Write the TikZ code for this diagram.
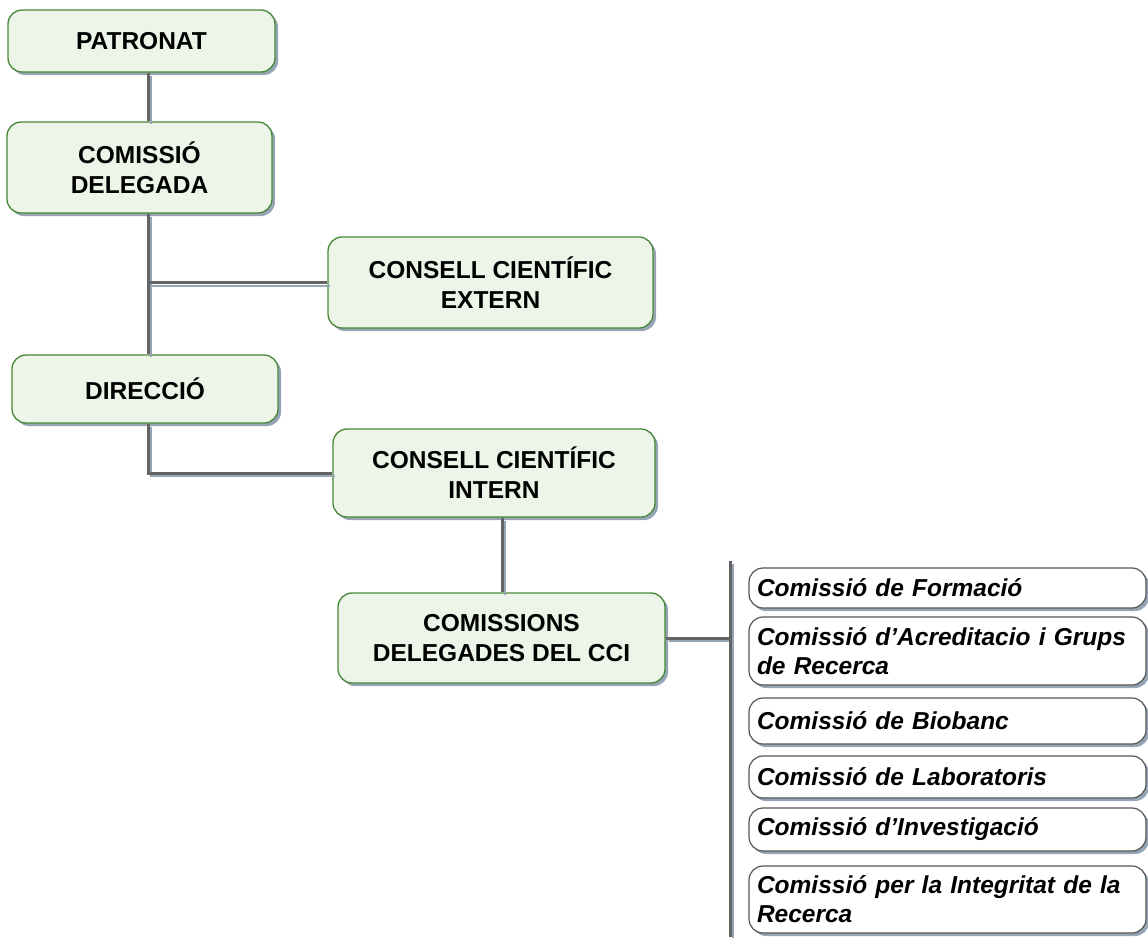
\documentclass[tikz,border=0pt]{standalone}
\usepackage{fontspec}
\setmainfont{Liberation Sans}
\usetikzlibrary{positioning,shadows}

\definecolor{mint}{RGB}{236,245,232}
\definecolor{boxline}{RGB}{70,135,55}
\definecolor{shadowblue}{RGB}{150,165,182}
\definecolor{linkgray}{RGB}{100,100,100}
\definecolor{listline}{RGB}{85,85,85}

\tikzset{
  orgbox/.style={draw=boxline, line width=1.3pt, fill=mint, rounded corners=14pt,
    align=center, inner sep=0pt, font=\bfseries\fontsize{24.5}{30}\selectfont,
    drop shadow={shadow xshift=3pt, shadow yshift=-3pt, fill=shadowblue, opacity=1}},
  listbox/.style={draw=listline, line width=1.2pt, fill=white, rounded corners=14pt,
    align=left, text width=381pt, inner xsep=8pt, inner ysep=0pt,
    minimum width=397pt, font=\bfseries\itshape\fontsize{24.5}{29}\selectfont,
    drop shadow={shadow xshift=3pt, shadow yshift=-3pt, fill=shadowblue, opacity=1}},
  link/.style={draw=linkgray, line width=3pt,
    preaction={draw=shadowblue, line width=2pt, transform canvas={shift={(3pt,-3pt)}}}}
}

\begin{document}
\begin{tikzpicture}[x=1pt,y=-1pt,node distance=60pt,on grid]
  \useasboundingbox (0,0) rectangle (1148,937);

  % main chain
  \node[orgbox, minimum width=267pt, minimum height=62pt] (patronat) at (141.5,41) {PATRONAT};
  \node[orgbox, minimum width=265pt, minimum height=91pt] (delegada) [below=126.5pt of patronat, xshift=-2pt] {COMISSIÓ\\DELEGADA};
  \node[orgbox, minimum width=325pt, minimum height=91pt] (extern) [below right=115pt and 351pt of delegada] {CONSELL CIENTÍFIC\\EXTERN};
  \node[orgbox, minimum width=266pt, minimum height=68pt] (direccio) [below left=106.5pt and 345.5pt of extern] {DIRECCIÓ};
  \node[orgbox, minimum width=322pt, minimum height=88pt] (intern) [below right=84pt and 349pt of direccio] {CONSELL CIENTÍFIC\\INTERN};
  \node[orgbox, minimum width=327pt, minimum height=90pt] (comissions) [below right=165pt and 7.5pt of intern] {COMISSIONS\\DELEGADES DEL CCI};

  % commissions list
  \node[listbox, minimum height=40pt] (formacio) [above right=50pt and 446pt of comissions] {Comissió de Formació};
  \node[listbox, minimum height=68pt] (acreditacio) [below=63pt of formacio] {Comissió d’Acreditacio i Grups\\de Recerca};
  \node[listbox, minimum height=46pt] (biobanc) [below=70pt of acreditacio] {Comissió de Biobanc};
  \node[listbox, minimum height=42pt] (laboratoris) [below=56pt of biobanc] {Comissió de Laboratoris};
  \node[listbox, minimum height=43pt] (investigacio) [below=52.5pt of laboratoris] {Comissió d’Investigació};
  \node[listbox, minimum height=67pt] (integritat) [below=70pt of investigacio] {Comissió per la Integritat de la\\Recerca};

  \coordinate (trunk) at (148,0);
  \coordinate (split) at (502,0);
  \coordinate (bartop) at (730,561);
  \coordinate (barbot) at (730,937);

  % connectors
  \draw[link] (patronat.south -| trunk) -- (delegada.north -| trunk);
  \draw[link] (delegada.south -| trunk) -- (direccio.north -| trunk);
  \draw[link] (extern.west -| trunk) -- (extern.west);
  \draw[link] (direccio.south -| trunk) |- (intern.west);
  \draw[link] (intern.south -| split) -- (comissions.north -| split);
  \draw[link] (comissions.east) -- (comissions.east -| bartop);
  \draw[link] (bartop) -- (barbot);
\end{tikzpicture}
\end{document}
